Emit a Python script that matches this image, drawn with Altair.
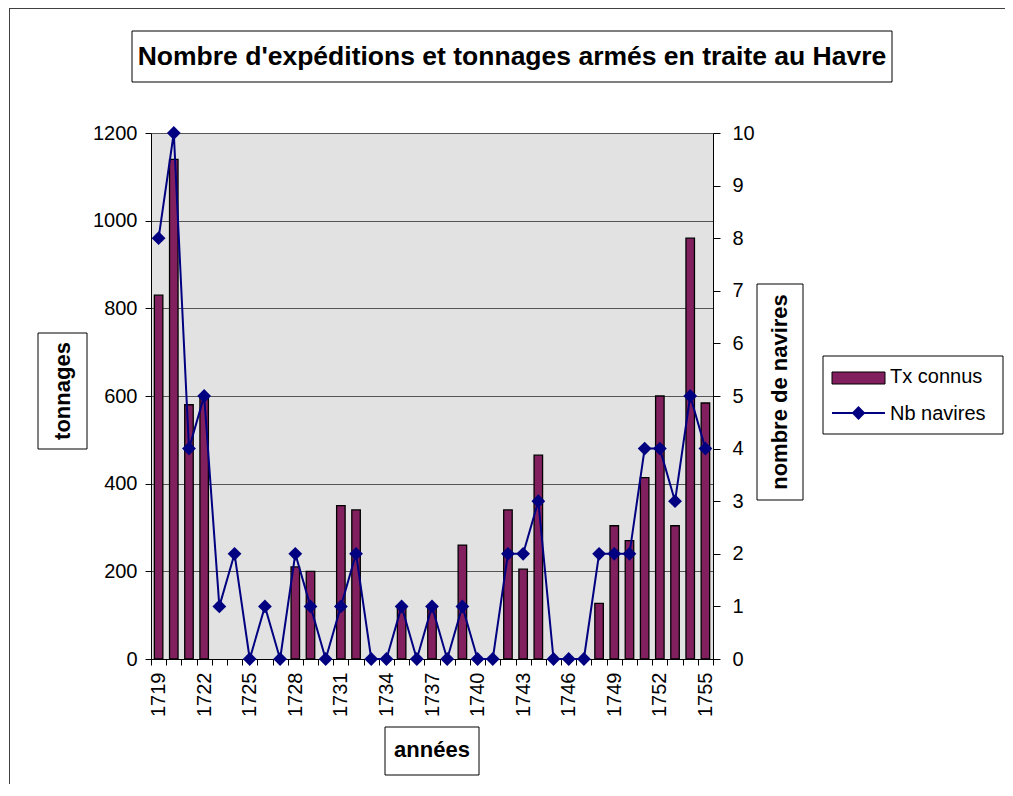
import altair as alt
import pandas as pd

years = list(range(1719, 1756))
tonnages = [830, 1140, 580, 600, None, None, None, None, None, 210, 200, None,
            350, 340, None, None, 120, None, 120, None, 260, None, None, 340,
            205, 465, None, None, None, 127, 304, 270, 414, 600, 304, 960, 584]
navires = [8, 10, 4, 5, 1, 2, 0, 1, 0, 2, 1, 0, 1, 2, 0, 0, 1, 0, 1, 0, 1, 0,
           0, 2, 2, 3, 0, 0, 0, 2, 2, 2, 4, 4, 3, 5, 4]
left_ticks = [0, 200, 400, 600, 800, 1000, 1200]
right_ticks = list(range(0, 11))

title_text = "Nombre d'expéditions et tonnages armés en traite au Havre"
x_title = "années"
y_title = "tonnages"
y2_title = "nombre de navires"
legend_labels = ["Tx connus", "Nb navires"]

FONT = "Liberation Sans"
BAR = "#82205f"
NAVY = "#000080"

df = pd.DataFrame({"year": years, "tx": tonnages, "nb": navires})
one = pd.DataFrame({"k": [0]})

x_enc = alt.X(
    "year:O",
    scale=alt.Scale(paddingInner=0, paddingOuter=0),
    axis=alt.Axis(
        title=None, labelAngle=270, tickBand="extent", tickSize=6,
        labelPadding=7, labelFont=FONT, labelFontSize=20, labelColor="black",
        domainColor="black", tickColor="black", grid=False,
        labelExpr="(toNumber(datum.value) - 1719) % 3 == 0 ? datum.label : ''",
    ),
)

bars = alt.Chart(df).mark_bar(size=8.5, fill=BAR, stroke="black", strokeWidth=1.3).encode(
    x=x_enc,
    y=alt.Y("tx:Q", scale=alt.Scale(domain=[0, 1200], nice=False),
            axis=alt.Axis(title=None, values=left_ticks, format="d", grid=True,
                          gridColor="#555555", gridWidth=1, tickSize=6, labelPadding=8,
                          labelFont=FONT, labelFontSize=20, labelColor="black",
                          domainColor="black", tickColor="black")),
)

line = alt.Chart(df).mark_line(
    color=NAVY, strokeWidth=2,
    point=alt.OverlayMarkDef(shape="diamond", filled=True, size=190, color=NAVY, opacity=1),
).encode(
    x=x_enc,
    y=alt.Y("nb:Q", scale=alt.Scale(domain=[0, 10], nice=False),
            axis=alt.Axis(title=None, orient="right", values=right_ticks, grid=False,
                          tickSize=7, labelPadding=12, labelFont=FONT, labelFontSize=20,
                          labelColor="black", domainColor="black", tickColor="black")),
)


def box(x1, y1, x2, y2, fill="white", stroke="black"):
    return alt.Chart(one).mark_rect(fill=fill, stroke=stroke, strokeWidth=1).encode(
        x=alt.value(x1), x2=alt.value(x2), y=alt.value(y1), y2=alt.value(y2))


def label(txt, x, y, size, bold=True, angle=0, align="center"):
    props = dict(text=txt, font=FONT, fontSize=size, color="black",
                 align=align, baseline="middle", angle=angle)
    if bold:
        props["fontWeight"] = "bold"
    return alt.Chart(one).mark_text(**props).encode(x=alt.value(x), y=alt.value(y))


frame_top = alt.Chart(one).mark_rule(color="#404040", strokeWidth=1).encode(
    x=alt.value(-142), x2=alt.value(2000), y=alt.value(-124.5))
frame_left = alt.Chart(one).mark_rule(color="#404040", strokeWidth=1).encode(
    x=alt.value(-141.5), y=alt.value(-124.5), y2=alt.value(2000))

deco = [
    box(-19, -102, 741, -51),
    label(title_text, 361, -76, 26.5),
    box(-113, 200, -64, 316),
    label(y_title, -88.5, 258, 22, angle=270),
    box(606, 151, 652, 367),
    label(y2_title, 629, 259, 22, angle=270),
    box(234, 594, 328, 642),
    label(x_title, 281, 617, 22),
    box(672, 223, 852, 301),
    alt.Chart(one).mark_rect(fill=BAR, stroke="black", strokeWidth=1).encode(
        x=alt.value(681), x2=alt.value(734), y=alt.value(239), y2=alt.value(251)),
    alt.Chart(one).mark_rule(color=NAVY, strokeWidth=2).encode(
        x=alt.value(681), x2=alt.value(734), y=alt.value(280)),
    alt.Chart(one).mark_point(shape="diamond", filled=True, size=190, color=NAVY, opacity=1).encode(
        x=alt.value(707.5), y=alt.value(280)),
    label(legend_labels[0], 739, 244, 20, bold=False, align="left"),
    label(legend_labels[1], 739, 281, 20, bold=False, align="left"),
]

chart = alt.layer(frame_top, frame_left, bars, line, *deco).resolve_scale(y="independent").properties(
    width=562, height=526,
    padding={"left": 143, "top": 125, "right": 292, "bottom": 125},
    autosize=alt.AutoSizeParams(type="none"),
).configure_view(fill="#e2e2e2", stroke=None)

chart.save("out.html", embed_options={"renderer": "svg", "actions": False})
